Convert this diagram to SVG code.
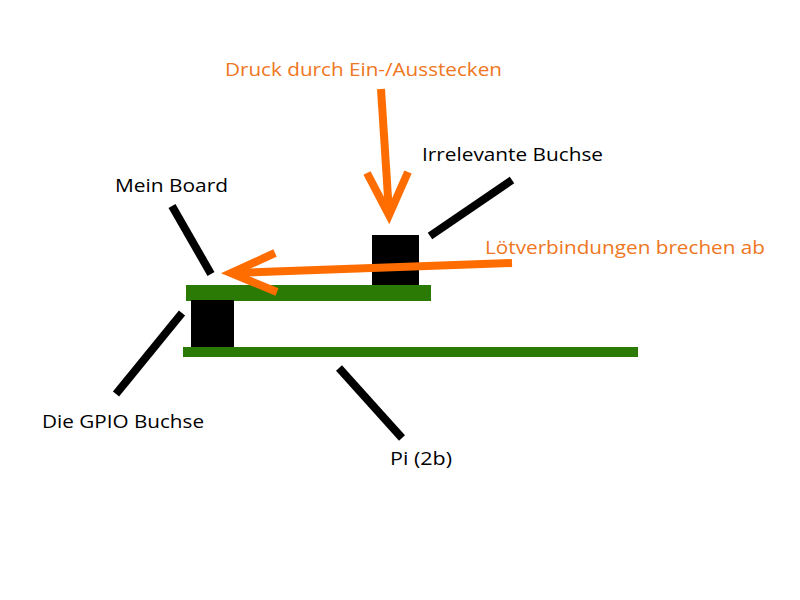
<svg xmlns="http://www.w3.org/2000/svg" width="800" height="600" viewBox="0 0 800 600">
<style>
  .lbl { font-family: "Open Sans", "Liberation Sans", sans-serif; font-size: 19px; fill: #000; }
  .olbl { font-family: "Open Sans", "Liberation Sans", sans-serif; font-size: 19px; fill: #EF7622; }
  .board { fill: #2A7A05; }
  .socket { fill: #000; }
  .lead { stroke: #000; stroke-width: 8; fill: none; }
  .arrow { stroke: #FF6D00; stroke-width: 8; fill: none; stroke-linejoin: miter; }
</style>
<rect width="800" height="600" fill="#fff"/>
<g id="pi-board"><rect class="board" x="183" y="347" width="455" height="10"/></g>
<g id="mein-board"><rect class="board" x="186" y="285" width="245" height="16"/></g>
<g id="gpio-buchse"><rect class="socket" x="191" y="300" width="43" height="47"/></g>
<g id="irrelevante-buchse"><rect class="socket" x="372" y="235" width="47" height="50"/></g>
<g id="connectors">
  <line class="lead" x1="172" y1="206" x2="211" y2="274"/>
  <line class="lead" x1="512" y1="180" x2="430" y2="236"/>
  <line class="lead" x1="182" y1="313" x2="116" y2="394"/>
  <line class="lead" x1="339" y1="368" x2="402" y2="438"/>
  <line class="arrow" x1="381" y1="89" x2="389" y2="213"/>
  <polyline class="arrow" points="367,173 389,215 408,172"/>
  <line class="arrow" x1="512" y1="263" x2="234" y2="273"/>
  <polyline class="arrow" points="275,253 231,273 277,292"/>
</g>
<g id="labels">
  <text class="olbl" x="225" y="76" textLength="277" lengthAdjust="spacingAndGlyphs">Druck durch Ein-/Ausstecken</text>
  <text class="lbl" x="422" y="161" textLength="181" lengthAdjust="spacingAndGlyphs">Irrelevante Buchse</text>
  <text class="lbl" x="115" y="192" textLength="113" lengthAdjust="spacingAndGlyphs">Mein Board</text>
  <text class="olbl" x="485" y="254" textLength="280" lengthAdjust="spacingAndGlyphs">Lötverbindungen brechen ab</text>
  <text class="lbl" x="42" y="428" textLength="162" lengthAdjust="spacingAndGlyphs">Die GPIO Buchse</text>
  <text class="lbl" x="390" y="465" textLength="62" lengthAdjust="spacingAndGlyphs">Pi (2b)</text>
</g>
</svg>
